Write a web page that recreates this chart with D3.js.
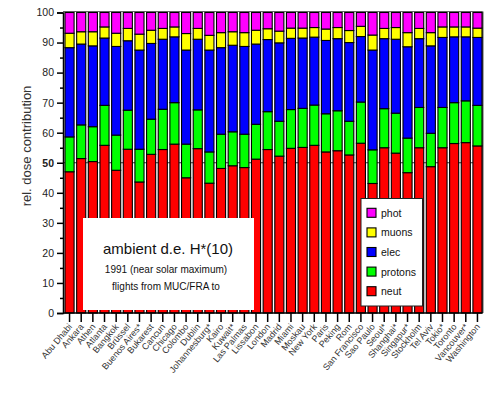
<!DOCTYPE html>
<html>
<head>
<meta charset="utf-8">
<script src="https://cdn.jsdelivr.net/npm/d3@7"></script>
<style>
  body { margin: 0; background: #fff; }
  text { font-family: "Liberation Sans", Arial, sans-serif; }
</style>
</head>
<body>
<div id="chart"></div>
<script>

var svgWidth = 496;
var svgHeight = 397;

// Data (percent contribution per component)
var cities = ["Abu Dhabi", "Ankara", "Athen", "Atlanta", "Bangkok", "Brüssel", "Buenos Aires*",
  "Bukarest", "Cancun", "Chicago", "Colombo", "Dublin", "Johannesburg*", "Kairo", "Kuwait*",
  "Las Palmas", "Lissabon", "London", "Madrid", "Miami", "Moskau", "New York", "Paris", "Peking",
  "Rom", "San Francisco", "Sao Paulo", "Seoul*", "Shanghai*", "Singapur*", "Stockholm",
  "Tel Aviv", "Tokio*", "Toronto", "Vancouver*", "Washington"];

var neut = [47.0, 51.4, 50.4, 55.8, 47.5, 54.5, 43.6, 52.8, 54.4, 56.2, 45.0, 54.7, 43.2, 48.1, 49.0,
  48.4, 51.2, 54.4, 52.2, 54.8, 55.1, 55.8, 53.6, 54.0, 52.6, 56.5, 43.1, 55.0, 53.2, 46.7, 55.0,
  48.7, 55.0, 56.4, 56.7, 55.6];
var protons = [11.6, 11.2, 11.6, 13.3, 11.7, 13.0, 10.9, 11.7, 13.4, 13.8, 11.2, 12.9, 10.4, 11.4, 11.3,
  11.1, 11.6, 12.6, 11.6, 12.9, 13.0, 13.4, 12.7, 13.3, 11.2, 13.7, 11.2, 13.0, 13.3, 11.5, 13.4,
  11.1, 13.4, 13.6, 13.9, 13.5];
var elec = [29.7, 26.9, 26.9, 22.4, 29.5, 23.1, 33.0, 25.2, 23.3, 21.9, 31.3, 23.5, 33.9, 28.8, 28.8,
  29.2, 26.7, 24.0, 26.1, 23.7, 23.4, 22.6, 24.4, 24.0, 26.2, 21.8, 33.2, 23.3, 24.6, 30.4, 22.9,
  29.1, 23.3, 21.9, 21.3, 22.6];
var muons = [4.8, 4.1, 4.7, 3.7, 4.4, 4.1, 5.3, 4.4, 3.6, 3.3, 5.5, 3.6, 4.9, 5.0, 4.5,
  4.6, 4.6, 3.6, 3.9, 3.4, 3.3, 3.2, 3.8, 3.7, 4.0, 3.4, 5.0, 3.4, 3.9, 4.7, 3.4,
  4.4, 3.5, 3.3, 3.3, 3.1];
var phot = [6.9, 6.4, 6.4, 4.8, 6.9, 5.3, 7.2, 5.9, 5.3, 4.8, 7.0, 5.3, 7.6, 6.7, 6.4,
  6.7, 5.9, 5.4, 6.2, 5.2, 5.2, 5.0, 5.5, 5.0, 6.0, 4.6, 7.5, 5.3, 5.0, 6.7, 5.3,
  6.7, 4.8, 4.8, 4.8, 5.2];

var keys = ["neut", "protons", "elec", "muons", "phot"];
var colors = ["#ff0000", "#00ff00", "#0000ff", "#ffff00", "#ff00ff"];
var yTicks = [0, 10, 20, 30, 40, 50, 60, 70, 80, 90, 100];

// Build a table for the stack layout
var table = cities.map(function(c, i) {
  return { city: c, neut: neut[i], protons: protons[i], elec: elec[i], muons: muons[i], phot: phot[i] };
});

var svg = d3.select("#chart")
  .append("svg")
  .attr("width", svgWidth)
  .attr("height", svgHeight);

// Scales
var xScale = d3.scaleBand()
  .domain(cities)
  .range([65, 482])
  .paddingInner(0.22)
  .paddingOuter(0);

var yScale = d3.scaleLinear()
  .domain([0, 100])
  .range([313, 12.5]);

var colorScale = d3.scaleOrdinal().domain(keys).range(colors);

var stacked = d3.stack().keys(keys)(table);

// frame top / right
svg.append("line")
  .attr("x1", 63).attr("x2", 482.5)
  .attr("y1", yScale(100) - 1).attr("y2", yScale(100) - 1)
  .attr("stroke", "#666").attr("stroke-width", 1);
svg.append("line")
  .attr("x1", 482.5).attr("x2", 482.5)
  .attr("y1", yScale(100) - 1).attr("y2", yScale(0))
  .attr("stroke", "#555").attr("stroke-width", 2);

// line at 50 %
svg.append("line")
  .attr("x1", 63).attr("x2", 482)
  .attr("y1", yScale(50)).attr("y2", yScale(50))
  .attr("stroke", "#333").attr("stroke-width", 1);

// Bars
svg.append("g")
  .selectAll("g")
  .data(stacked)
  .enter()
  .append("g")
  .attr("fill", d => colorScale(d.key))
  .selectAll("rect")
  .data(d => d)
  .enter()
  .append("rect")
  .attr("x", d => xScale(d.data.city))
  .attr("y", d => yScale(d[1]))
  .attr("width", xScale.bandwidth())
  .attr("height", d => yScale(d[0]) - yScale(d[1]))
  .attr("stroke", "#000")
  .attr("stroke-width", 1.1);

// Y axis
var leftAxis = d3.axisLeft(yScale)
  .tickValues(yTicks)
  .tickSize(6)
  .tickPadding(3)
  .tickFormat(d3.format("d"));

var yAxisG = svg.append("g")
  .attr("transform", "translate(63,0)")
  .call(leftAxis);
yAxisG.select(".domain").attr("stroke", "#000").attr("stroke-width", 1.5);
yAxisG.selectAll(".tick line").attr("stroke", "#000").attr("stroke-width", 1.5);
yAxisG.selectAll(".tick text")
  .attr("font-size", 10.5)
  .attr("font-family", "Liberation Sans, Arial, sans-serif")
  .attr("fill", "#222")
  .attr("font-weight", d => d === 50 ? "bold" : "normal");

// minor ticks
svg.append("g")
  .attr("transform", "translate(63,0)")
  .call(d3.axisLeft(yScale).tickValues(d3.range(5, 100, 10)).tickSize(3).tickFormat(""))
  .call(g => g.select(".domain").remove())
  .selectAll("line").attr("stroke", "#000").attr("stroke-width", 1.5);

// X axis
var bottomAxis = d3.axisBottom(xScale).tickSize(9).tickFormat("");
var xAxisG = svg.append("g")
  .attr("transform", "translate(0,313)")
  .call(bottomAxis);
xAxisG.select(".domain").attr("d", "M63,0H482.5").attr("stroke", "#000").attr("stroke-width", 1.5);
xAxisG.selectAll(".tick line").attr("stroke", "#000").attr("stroke-width", 1.5);

svg.append("g")
  .selectAll("text")
  .data(cities)
  .enter()
  .append("text")
  .attr("transform", d => `translate(${xScale(d) + xScale.bandwidth() / 2 + 3}, 327) rotate(-50)`)
  .attr("text-anchor", "end")
  .attr("font-size", 9)
  .attr("fill", "#333")
  .text(d => d);

// Y axis title
svg.append("text")
  .attr("transform", "translate(31,146) rotate(-90)")
  .attr("text-anchor", "middle")
  .attr("font-size", 13)
  .attr("fill", "#333")
  .text("rel. dose contribution");

// Annotation box
svg.append("rect")
  .attr("x", 83).attr("y", 218)
  .attr("width", 171).attr("height", 92)
  .attr("fill", "#fff");

svg.append("text")
  .attr("x", 168).attr("y", 254)
  .attr("text-anchor", "middle")
  .attr("font-size", 15)
  .attr("fill", "#111")
  .text("ambient d.e. H*(10)");
svg.append("text")
  .attr("x", 166).attr("y", 273)
  .attr("text-anchor", "middle")
  .attr("font-size", 10)
  .attr("fill", "#111")
  .text("1991 (near solar maximum)");
svg.append("text")
  .attr("x", 166).attr("y", 289.5)
  .attr("text-anchor", "middle")
  .attr("font-size", 10)
  .attr("fill", "#111")
  .text("flights from MUC/FRA to");

// Legend
var legend = svg.append("g");
legend.append("rect")
  .attr("x", 361).attr("y", 198.5)
  .attr("width", 61.5).attr("height", 107.5)
  .attr("fill", "#fff")
  .attr("stroke", "#222")
  .attr("stroke-width", 1);

var legendKeys = keys.slice().reverse();
var legendRow = d3.scaleBand().domain(legendKeys).range([203, 301]);

legend.selectAll("rect.sw")
  .data(legendKeys)
  .enter()
  .append("rect")
  .attr("class", "sw")
  .attr("x", 367)
  .attr("y", d => legendRow(d) + legendRow.bandwidth() / 2 - 4.5)
  .attr("width", 9).attr("height", 9)
  .attr("fill", d => colorScale(d))
  .attr("stroke", "#000")
  .attr("stroke-width", 1.1);

legend.selectAll("text")
  .data(legendKeys)
  .enter()
  .append("text")
  .attr("x", 381)
  .attr("y", d => legendRow(d) + legendRow.bandwidth() / 2 + 4)
  .attr("font-size", 10.5)
  .attr("fill", "#111")
  .text(d => d);

</script>
</body>
</html>
